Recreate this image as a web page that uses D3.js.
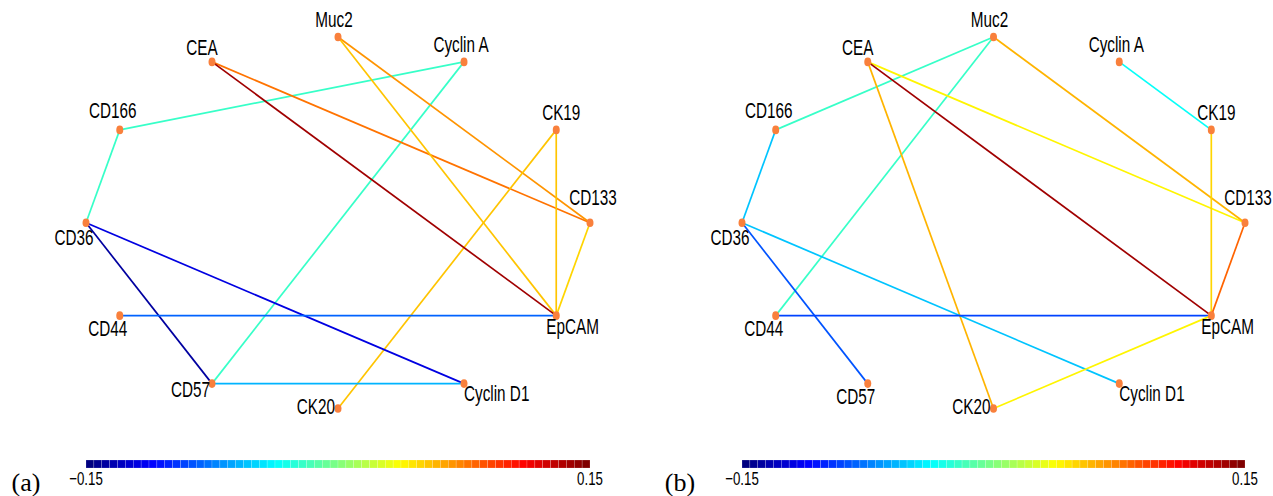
<!DOCTYPE html>
<html>
<head>
	<meta charset="utf-8">
	<title>Network panels (a) and (b)</title>
	<script type="text/javascript" src="https://cdn.jsdelivr.net/npm/d3@7/dist/d3.min.js"></script>
	<style>
		body { margin: 0; background: #fff; }
		text { font-family: "Liberation Sans", Arial, sans-serif; fill: #000; }
	</style>
</head>
<body>
<div id="content"></div>

<script type="text/javascript">
// node names, counter-clockwise starting from the right (0 degrees)
var nodes = ["CD133", "CK19", "Cyclin A", "Muc2", "CEA", "CD166",
             "CD36", "CD44", "CD57", "CK20", "Cyclin D1", "EpCAM"];

// edges: [source, target, value]
var edgesA = [
  ["CD166", "Cyclin A", -0.022],
  ["CD166", "CD36", -0.022],
  ["Cyclin A", "CD57", -0.022],
  ["CEA", "CD133", 0.078],
  ["Muc2", "CD133", 0.068],
  ["Muc2", "EpCAM", 0.052],
  ["CK19", "EpCAM", 0.052],
  ["CK19", "CK20", 0.056],
  ["CD133", "EpCAM", 0.050],
  ["CEA", "EpCAM", 0.140],
  ["CD36", "Cyclin D1", -0.118],
  ["CD36", "CD57", -0.140],
  ["CD44", "EpCAM", -0.080],
  ["CD57", "Cyclin D1", -0.060]
];

var edgesB = [
  ["CD166", "Muc2", -0.022],
  ["CD166", "CD36", -0.055],
  ["Muc2", "CD44", -0.022],
  ["Cyclin A", "CK19", -0.036],
  ["CEA", "CD133", 0.038],
  ["CEA", "CK20", 0.058],
  ["Muc2", "CD133", 0.058],
  ["CK19", "EpCAM", 0.048],
  ["CD133", "EpCAM", 0.080],
  ["CEA", "EpCAM", 0.140],
  ["CD36", "Cyclin D1", -0.055],
  ["CD36", "CD57", -0.085],
  ["CD44", "EpCAM", -0.090],
  ["CK20", "EpCAM", 0.038]
];

var colorDomain = [-0.15, 0.15];
var colorTicks = [-0.15, 0.15];
var panelLabels = ["(a)", "(b)"];

var width = 1273;
var height = 496;
var textScale = 0.68;

// label placement around each node (anchor, dx, dy)
var labelPos = {
  "Muc2":      ["middle", -4, -10],
  "Cyclin A":  ["middle", -3, -10],
  "CK19":      ["middle", 5, -10],
  "CD133":     ["middle", 3, -18],
  "CEA":       ["middle", -10, -7],
  "CD166":     ["middle", -7, -12],
  "CD36":      ["middle", -12, 22],
  "CD44":      ["middle", -12, 20],
  "CD57":      ["end", -2, 13],
  "CK20":      ["end", -3, 5],
  "Cyclin D1": ["start", 0, 17],
  "EpCAM":     ["start", -10, 18]
};

var panels = [
  {edges: edgesA, label: panelLabels[0], x: [86, 590], labelX: 26, cd57: ["end", -2, 13]},
  {edges: edgesB, label: panelLabels[1], x: [742, 1245], labelX: 680, cd57: ["middle", -12, 20]}
];

// matlab style jet colormap
function jet(t) {
  function c(v) { return Math.max(0, Math.min(1, v)); }
  var r = c(1.5 - Math.abs(4 * t - 3));
  var g = c(1.5 - Math.abs(4 * t - 2));
  var b = c(1.5 - Math.abs(4 * t - 1));
  return d3.rgb(r * 255, g * 255, b * 255).toString();
}
var nColors = 64;
var palette = d3.range(nColors).map(function(i) { return jet(i / (nColors - 1)); });
var color = d3.scaleQuantize().domain(colorDomain).range(palette);

var angle = d3.scaleLinear().domain([0, nodes.length]).range([0, 2 * Math.PI]);

var svg = d3.select("div#content").append("svg")
  .attr("width", width).attr("height", height);

panels.forEach(function(p) {
  var g = svg.append("g");
  var xs = d3.scaleLinear().domain([-1, 1]).range(p.x);
  var ys = d3.scaleLinear().domain([-1, 1]).range([408.5, 37]);

  var pos = {};
  nodes.forEach(function(n, i) {
    var a = angle(i);
    pos[n] = [xs(Math.cos(a)), ys(Math.sin(a))];
  });

  g.selectAll("line.edge").data(p.edges).enter().append("line")
    .attr("class", "edge")
    .attr("x1", function(d) { return pos[d[0]][0]; })
    .attr("y1", function(d) { return pos[d[0]][1]; })
    .attr("x2", function(d) { return pos[d[1]][0]; })
    .attr("y2", function(d) { return pos[d[1]][1]; })
    .attr("stroke", function(d) { return color(d[2]); })
    .attr("stroke-width", 1.7);

  g.selectAll("ellipse.node").data(nodes).enter().append("ellipse")
    .attr("class", "node")
    .attr("cx", function(d) { return pos[d][0]; })
    .attr("cy", function(d) { return pos[d][1]; })
    .attr("rx", 3.5).attr("ry", 4.3)
    .attr("fill", "#f9803c");

  g.selectAll("text.node").data(nodes).enter().append("text")
    .attr("class", "node")
    .attr("font-size", 22.5)
    .attr("text-anchor", function(d) { return (d == "CD57" ? p.cd57 : labelPos[d])[0]; })
    .attr("transform", function(d) {
      var lp = d == "CD57" ? p.cd57 : labelPos[d];
      return "translate(" + (pos[d][0] + lp[1]) + "," + (pos[d][1] + lp[2]) + ") scale(" + textScale + ",1)";
    })
    .text(function(d) { return d; });

  // colorbar
  var cb = d3.scaleLinear().domain(colorDomain).range(p.x);
  var step = (p.x[1] - p.x[0]) / nColors;
  g.selectAll("rect.cell").data(palette).enter().append("rect")
    .attr("class", "cell")
    .attr("x", function(d, i) { return p.x[0] + i * step; })
    .attr("y", 460)
    .attr("width", step)
    .attr("height", 8)
    .attr("fill", function(d) { return d; })
    .attr("stroke", "rgba(255,255,255,0.35)")
    .attr("stroke-width", 0.5);

  g.selectAll("text.tick").data(colorTicks).enter().append("text")
    .attr("class", "tick")
    .attr("font-size", 19)
    .attr("text-anchor", "middle")
    .attr("transform", function(d) { return "translate(" + cb(d) + ",485) scale(0.7,1)"; })
    .text(function(d) { return d3.format(".2f")(d).replace("-", "\u2212"); });

  g.append("text")
    .attr("x", p.labelX).attr("y", 491)
    .attr("text-anchor", "middle")
    .attr("font-size", 26)
    .style("font-family", "'Liberation Serif', 'DejaVu Serif', serif")
    .text(p.label);
});
</script>
</body>
</html>
